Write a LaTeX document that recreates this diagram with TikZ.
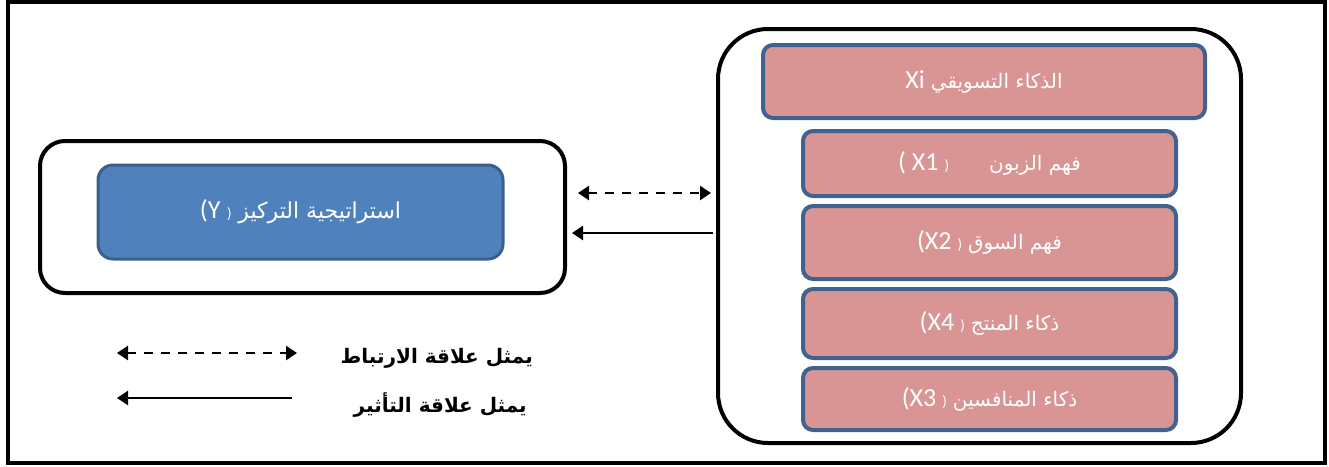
\documentclass[tikz,border=0pt]{standalone}
\usepackage{fontspec}
\usetikzlibrary{arrows.meta}
\TeXXeTstate=1
\newfontfamily\arfont[Script=Arabic]{DejaVu Sans}
\newfontfamily\latfont{Carlito}
\definecolor{pinkfill}{HTML}{D99594}
\definecolor{boxedge}{HTML}{41618F}
\definecolor{bluefill}{HTML}{4F81BD}
\definecolor{blueedge}{HTML}{3A5F8C}
\newcommand{\artxt}[1]{{\arfont\beginR #1\endR}}
\newcommand{\lt}[1]{\hbox{\latfont\fontsize{26}{28}\selectfont #1}}
\newcommand{\clp}{\hbox{\latfont\fontsize{15}{18}\selectfont )}}
\begin{document}
\begin{tikzpicture}[x=1pt,y=-1pt,
  varbox/.style={draw=boxedge, line width=4pt, fill=pinkfill, rounded corners=10pt,
    text=white, inner sep=0pt, font=\fontsize{20}{24}\selectfont},
  ybox/.style={draw=blueedge, line width=3pt, fill=bluefill, rounded corners=15pt,
    text=white, inner sep=0pt, font=\fontsize{22}{26}\selectfont},
  groupbox/.style={draw=black, line width=4pt, inner sep=0pt},
  linkarrow/.style={line width=2.5pt, -{Triangle[length=11pt,width=14pt]}},
  corrarrow/.style={line width=2.5pt, dash pattern=on 9pt off 8pt,
    {Triangle[length=11pt,width=14pt]}-{Triangle[length=11pt,width=14pt]}},
  legendtext/.style={anchor=east, inner sep=0pt, font=\arfont\bfseries\fontsize{20}{23}\selectfont}
]
\useasboundingbox (0,0) rectangle (1329,466);
\draw[line width=4pt] (7.5,2) rectangle (1325,463);

% right group
\node[groupbox, rounded corners=50pt, minimum width=523pt, minimum height=414pt] (rbox) at (979.5,236) {};
\node[varbox, minimum width=442pt, minimum height=73pt] (xi) at (984,81.5)
  {\lt{Xi}\ \artxt{الذكاء التسويقي}};
\node[varbox, minimum width=373pt, minimum height=65pt] (x1) at (989.5,163.5)
  {\lt{( X1}\ \clp\qquad\artxt{فهم الزبون}};
\node[varbox, minimum width=373pt, minimum height=73pt] (x2) at (989.5,242.5)
  {\lt{(X2}\ \clp\ \artxt{فهم السوق}};
\node[varbox, minimum width=373pt, minimum height=69pt] (x4) at (989.5,323.5)
  {\lt{(X4}\ \clp\ \artxt{ذكاء المنتج}};
\node[varbox, minimum width=373pt, minimum height=62pt] (x3) at (989.5,399)
  {\lt{(X3}\ \clp\ \artxt{ذكاء المنافسين}};

% left group
\node[groupbox, rounded corners=25pt, minimum width=525pt, minimum height=152pt] (lbox) at (302.5,217) {};
\node[ybox, minimum width=405pt, minimum height=94pt] (y) at (300.5,212)
  {\lt{(Y}\ \clp\ \artxt{استراتيجية التركيز}};

% connectors between groups
\coordinate (corrL) at (578,193);
\coordinate (corrR) at (711,193);
\coordinate (inflR) at (713,233);
\coordinate (inflL) at (572,233);
\draw[corrarrow] (corrL) -- (corrR);
\draw[linkarrow] (inflR) -- (inflL);

% legend
\coordinate (legAL) at (117,353);
\coordinate (legAR) at (297,353);
\coordinate (legBR) at (292,398);
\coordinate (legBL) at (117,398);
\draw[corrarrow] (legAL) -- (legAR);
\draw[linkarrow] (legBR) -- (legBL);
\node[legendtext] (legA) at (533,358) {\artxt{يمثل علاقة الارتباط}};
\node[legendtext] (legB) at (527,405) {\artxt{يمثل علاقة التأثير}};
\end{tikzpicture}
\end{document}
